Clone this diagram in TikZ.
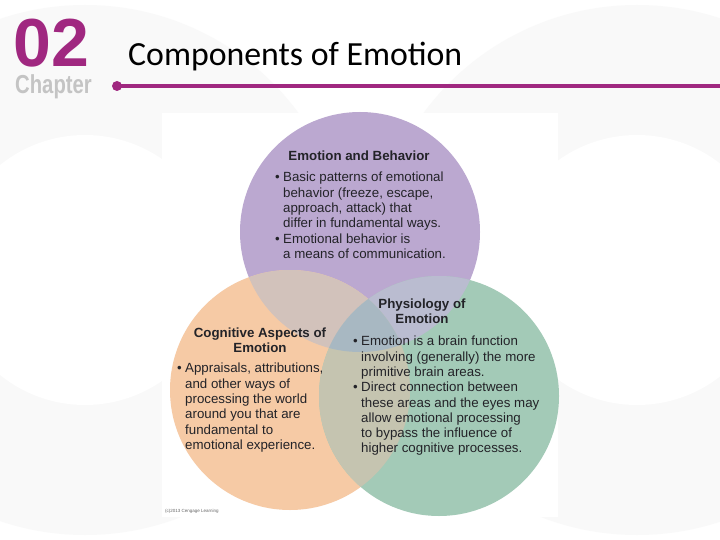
\documentclass[tikz,border=0pt]{standalone}
\usepackage{fontspec}
\setmainfont{Liberation Sans}
\newfontfamily\slidefont{Carlito}
\usepackage{tikz}
\usetikzlibrary{positioning}
\definecolor{chappurple}{RGB}{160,40,128}
\definecolor{chapgray}{RGB}{196,196,196}
\definecolor{slidegray}{RGB}{249,249,249}
\definecolor{behavpurple}{RGB}{187,168,208}
\definecolor{cogorange}{RGB}{246,202,165}
\definecolor{physgreen}{RGB}{163,202,183}
\definecolor{bcmix}{RGB}{210,194,187}
\definecolor{bpmix}{RGB}{186,188,208}
\definecolor{cpmix}{RGB}{197,196,176}
\definecolor{allmix}{RGB}{168,184,194}
\definecolor{vtext}{RGB}{35,35,40}
\tikzstyle{head} = [font=\fontsize{13.3}{15.3}\selectfont\bfseries,align=center,text=vtext,inner sep=0pt]
\tikzstyle{body} = [font=\fontsize{13.3}{15.3}\selectfont,align=left,anchor=north west,text=vtext,inner sep=0pt]
\newcommand{\bl}{\makebox[8pt][l]{\textbullet}}
\newcommand{\ind}{\hspace*{8pt}}
\newcommand{\behavdisk}{(360,232) circle (120)}
\newcommand{\cogdisk}{(290,390) circle (120)}
\newcommand{\physdisk}{(439,396) circle (120)}

\begin{document}
\begin{tikzpicture}[x=1pt,y=-1pt]
    \useasboundingbox (0,0) rectangle (720,540);
    % slide background
    \fill[white] (0,0) rectangle (720,540);
    \fill[slidegray] (85,270) circle (265);
    \fill[slidegray] (637,270) circle (265);
    \fill[white] (85,270) circle (135);
    \fill[white] (637,270) circle (135);
    % chapter mark and title
    \node[anchor=base west,inner sep=0pt,text height=49pt,text depth=0pt,text=chappurple,font=\fontsize{68}{68}\selectfont\bfseries] (chapnum) at (13,67) {02};
    \node[anchor=base west,inner sep=0pt,text height=19pt,text=chapgray,font=\fontsize{26}{26}\selectfont\bfseries] (chapword) at (15,94) {\scalebox{0.78}[1]{Chapter}};
    \node[anchor=base west,inner sep=0pt,font=\fontsize{33.8}{34}\selectfont\slidefont] (title) at (128,66) {Components of Emotion};
    \coordinate (rulestart) at (117,86);
    \coordinate (ruleend) at (720,86);
    \draw[chappurple,line width=3.5pt] (rulestart) -- (ruleend);
    \fill[chappurple] (rulestart) circle (5);
    % figure panel
    \fill[white] (162,113) rectangle (558,517);
    % venn circles
    \fill[behavpurple] \behavdisk;
    \fill[cogorange] \cogdisk;
    \fill[physgreen] \physdisk;
    \begin{scope}
        \clip \behavdisk;
        \fill[bcmix] \cogdisk;
        \fill[bpmix] \physdisk;
    \end{scope}
    \begin{scope}
        \clip \cogdisk;
        \fill[cpmix] \physdisk;
        \clip \behavdisk;
        \fill[allmix] \physdisk;
    \end{scope}
    % emotion and behavior
    \node[head] (behavhead) at (359,156) {Emotion and Behavior};
    \node[body] (behavbody) at (275,172) {\bl Basic patterns of emotional\\
        \ind behavior (freeze, escape,\\
        \ind approach, attack) that\\
        \ind differ in fundamental ways.\\
        \bl Emotional behavior is\\
        \ind a means of communication.};
    % physiology
    \node[head] (physhead) at (422,311) {Physiology of\\Emotion};
    \node[body] (physbody) at (353,336) {\bl Emotion is a brain function\\
        \ind involving (generally) the more\\
        \ind primitive brain areas.\\
        \bl Direct connection between\\
        \ind these areas and the eyes may\\
        \ind allow emotional processing\\
        \ind to bypass the influence of\\
        \ind higher cognitive processes.};
    % cognitive aspects
    \node[head] (coghead) at (260,340) {Cognitive Aspects of\\Emotion};
    \node[body] (cogbody) at (177,363) {\bl Appraisals, attributions,\\
        \ind and other ways of\\
        \ind processing the world\\
        \ind around you that are\\
        \ind fundamental to\\
        \ind emotional experience.};
    \node[anchor=west,inner sep=0pt,text=black!60,font=\fontsize{4.5}{5}\selectfont] (credit) at (165,511) {(c)2013 Cengage Learning};
\end{tikzpicture}
\end{document}
